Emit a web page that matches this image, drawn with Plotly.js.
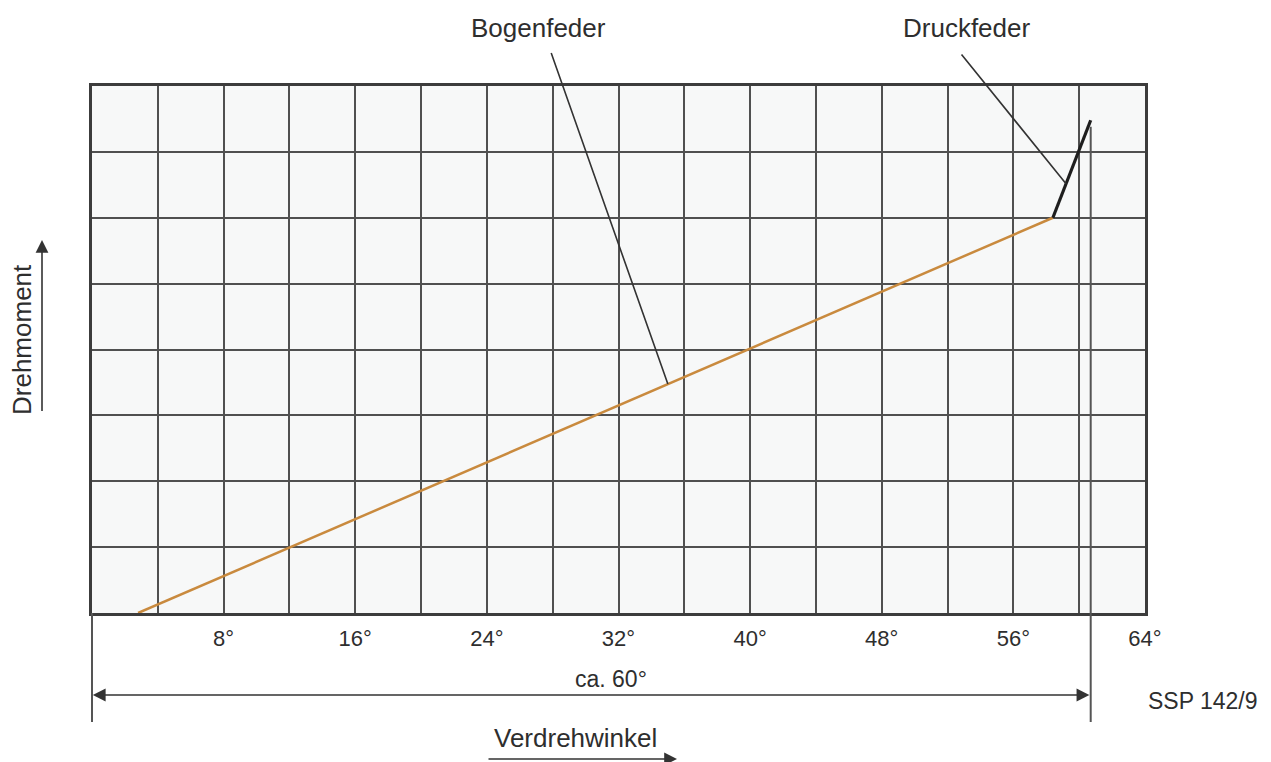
<!DOCTYPE html>
<html>
<head>
<meta charset="utf-8">
<script src="https://cdn.plot.ly/plotly-3.0.1.min.js"></script>
<style>html,body{margin:0;padding:0;background:#fff;}#chart{width:1271px;height:762px;}</style>
</head>
<body>
<div id="chart"></div>
<script>
// Data
var xTickVals = [8, 16, 24, 32, 40, 48, 56, 64];
var xTickLabels = ['8°', '16°', '24°', '32°', '40°', '48°', '56°', '64°'];
var bogenX = [2.8, 58.4];   // Bogenfeder (arc spring)
var bogenY = [0, 6];
var druckX = [58.4, 60.7];  // Druckfeder (compression spring)
var druckY = [6, 7.48];
var bogenLabelX = 35.0;     // where the Bogenfeder leader touches the line
var druckLabelX = 59.2;     // where the Druckfeder leader touches the line

function yOn(xs, ys, x) { return ys[0] + (ys[1] - ys[0]) * (x - xs[0]) / (xs[1] - xs[0]); }

var font = 'Liberation Sans, Arial, sans-serif';
var txt = '#2e2e2e';
var grid = '#505050';
// pixel -> paper helpers (plot area: x 92..1145, y 86..613)
function px(x) { return (x - 92) / 1053; }
function py(y) { return (613 - y) / 527; }

var traces = [
  {x: bogenX, y: bogenY, mode: 'lines', line: {color: '#c98a3e', width: 2.5}, hoverinfo: 'skip'},
  {x: druckX, y: druckY, mode: 'lines', line: {color: '#1e1e1e', width: 3.2}, hoverinfo: 'skip'}
];

function label(text, x, y, size, extra) {
  var a = {text: text, xref: 'paper', yref: 'paper', x: px(x), y: py(y), xanchor: 'center', yanchor: 'middle',
           showarrow: false, font: {size: size, color: txt}};
  if (extra) for (var k in extra) a[k] = extra[k];
  return a;
}

var layout = {
  width: 1271, height: 762,
  margin: {l: 92, r: 126, t: 86, b: 149},
  paper_bgcolor: '#ffffff', plot_bgcolor: '#f7f8f8',
  showlegend: false,
  font: {family: font, color: txt},
  xaxis: {
    range: [0, 64], tickvals: xTickVals, ticktext: xTickLabels,
    showgrid: true, gridcolor: grid, gridwidth: 2,
    minor: {dtick: 4, tick0: 0, showgrid: true, gridcolor: grid, gridwidth: 2},
    ticks: '', ticklabelstandoff: 4,
    tickfont: {size: 22, color: txt, family: font},
    zeroline: false, showline: true, linecolor: '#3c3c3c', linewidth: 3, mirror: true,
    fixedrange: true
  },
  yaxis: {
    range: [0, 8], dtick: 1, showticklabels: false, ticks: '',
    showgrid: true, gridcolor: grid, gridwidth: 2,
    zeroline: false, showline: true, linecolor: '#3c3c3c', linewidth: 3, mirror: true,
    fixedrange: true
  },
  shapes: [
    // left extension line below the axis
    {type: 'line', xref: 'paper', yref: 'paper', x0: 0, x1: 0, y0: 0, y1: py(722),
     line: {color: '#555', width: 2}},
    // vertical line at the end of the spring travel
    {type: 'line', xref: 'x', yref: 'y', x0: druckX[1], x1: druckX[1], y0: druckY[1] - 0.1, y1: 0,
     line: {color: '#555', width: 2}},
    {type: 'line', xref: 'x', yref: 'paper', x0: druckX[1], x1: druckX[1], y0: 0, y1: py(722),
     line: {color: '#555', width: 2}}
  ],
  annotations: [
    label('Bogenfeder', 538, 28, 26),
    label('Druckfeder', 966, 28, 26),
    // leader lines
    {text: ' ', font: {size: 1}, borderpad: 0, xref: 'x', yref: 'y', x: bogenLabelX, y: yOn(bogenX, bogenY, bogenLabelX),
     showarrow: true, arrowhead: 0, arrowwidth: 1.6, arrowcolor: '#333', ax: 551 - 668, ay: 50 - 382},
    {text: ' ', font: {size: 1}, borderpad: 0, xref: 'x', yref: 'y', x: druckLabelX, y: yOn(druckX, druckY, druckLabelX),
     showarrow: true, arrowhead: 0, arrowwidth: 1.6, arrowcolor: '#333', ax: 960 - 1065, ay: 52 - 182},
    // ca. 60° dimension
    label('ca. 60°', 611, 679, 23),
    {text: ' ', font: {size: 1}, borderpad: 0, xref: 'x', yref: 'paper', x: 0.05, y: py(695),
     showarrow: true, arrowhead: 2, arrowside: 'end+start', arrowsize: 1.6, arrowwidth: 1.6, arrowcolor: '#333',
     axref: 'x', ax: druckX[1] - 0.05, ay: 0},
    label('SSP 142/9', 1203, 701, 23),
    // axis labels with arrows
    label('Verdrehwinkel', 575, 738, 26),
    {text: ' ', font: {size: 1}, borderpad: 0, xref: 'paper', yref: 'paper', x: px(677), y: py(759),
     showarrow: true, arrowhead: 2, arrowsize: 1.6, arrowwidth: 1.6, arrowcolor: '#333', ax: -189, ay: 0},
    label('Drehmoment', 22, 340, 26, {textangle: -90}),
    {text: ' ', font: {size: 1}, borderpad: 0, xref: 'paper', yref: 'paper', x: px(42), y: py(240),
     showarrow: true, arrowhead: 2, arrowsize: 1.6, arrowwidth: 1.6, arrowcolor: '#333', ax: 0, ay: 172}
  ]
};

Plotly.newPlot('chart', traces, layout, {staticPlot: true, displayModeBar: false});
</script>
</body>
</html>
